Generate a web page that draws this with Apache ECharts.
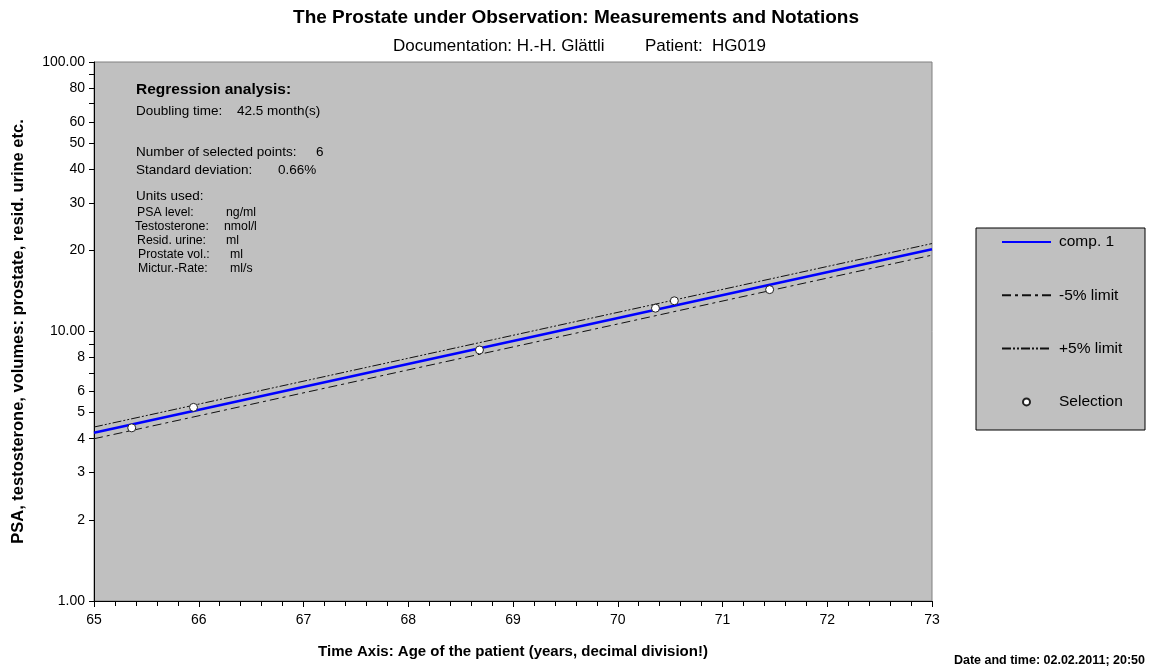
<!DOCTYPE html>
<html>
<head>
<meta charset="utf-8">
<script src="https://cdn.jsdelivr.net/npm/echarts@6/dist/echarts.min.js"></script>
<style>
html, body { margin: 0; padding: 0; background: #fff; }
#chart { width: 1150px; height: 669px; }
</style>
</head>
<body>
<div id="chart"></div>
<script>
// regression line (start/end of the age axis) and the +/-5% limits
var ageRange = [65, 73];
var comp1 = [4.21, 20.2];
var lowerLimit = [4.0, 19.2];
var upperLimit = [4.42, 21.2];

// selected measurements
var selAge = [65.36, 65.95, 68.68, 70.36, 70.54, 71.45];
var selValue = [4.39, 5.23, 8.54, 12.2, 13.0, 14.3];

// axis ticks
var yTicks = [1, 2, 3, 4, 5, 6, 7, 8, 9, 10, 20, 30, 40, 50, 60, 70, 80, 90, 100];
var yLabels = [1, 2, 3, 4, 5, 6, 8, 10, 20, 30, 40, 50, 60, 80, 100];
var xLabels = [65, 66, 67, 68, 69, 70, 71, 72, 73];

// text block inside the plot
var unitNames = ['PSA level:', 'Testosterone:', 'Resid. urine:', 'Prostate vol.:', 'Mictur.-Rate:'];
var unitValues = ['ng/ml', 'nmol/l', 'ml', 'ml', 'ml/s'];

var FONT = '"Liberation Sans", Arial, sans-serif';

function pairs(xs, ys) {
    return xs.map(function (x, i) { return [x, ys[i]]; });
}

// small helper for a text element, x/y is the left/middle anchor
function txt(str, x, y, font, align) {
    return {
        type: 'text', z: 10,
        style: { text: str, x: x, y: y, font: font + ' ' + FONT, fill: '#000',
                 align: align || 'left', verticalAlign: 'middle' }
    };
}

var chart = echarts.init(document.getElementById('chart'));

var graphics = [
    // legend box
    { type: 'rect', z: 0, shape: { x: 976, y: 228, width: 169, height: 202 },
      style: { fill: '#c0c0c0', stroke: '#000', lineWidth: 1 } },
    // titles
    txt('The Prostate under Observation: Measurements and Notations', 576, 18, 'bold 19px', 'center'),
    txt('Documentation: H.-H. Glättli', 393, 46, '17px'),
    txt('Patient:  HG019', 645, 46, '17px'),
    // regression notes
    txt('Regression analysis:', 136, 90, 'bold 15.5px'),
    txt('Doubling time:', 136, 111, '13.5px'),
    txt('42.5 month(s)', 237, 111, '13.5px'),
    txt('Number of selected points:', 136, 152, '13.5px'),
    txt('6', 316, 152, '13.5px'),
    txt('Standard deviation:', 136, 170, '13.5px'),
    txt('0.66%', 278, 170, '13.5px'),
    txt('Units used:', 136, 196, '13.5px'),
    // date stamp
    txt('Date and time: 02.02.2011; 20:50', 1145, 661, 'bold 12.5px', 'right')
];
var unitNameX = [137, 135, 137, 138, 138];
var unitValueX = [226, 224, 226, 230, 230];
unitNames.forEach(function (n, i) {
    var y = 213 + i * 13.8;
    graphics.push(txt(n, unitNameX[i], y, '12.3px'));
    graphics.push(txt(unitValues[i], unitValueX[i], y, '12.3px'));
});

var hideSymbol = { opacity: 0 };

chart.setOption({
    animation: false,
    backgroundColor: '#fff',
    graphic: graphics,
    legend: {
        orient: 'vertical',
        left: 1001,
        top: 234,
        itemWidth: 49,
        itemHeight: 7,
        itemGap: 37.3,
        padding: 0,
        textStyle: { fontFamily: FONT, fontSize: 15.5, color: '#000', lineHeight: 16, padding: [0, 0, 0, 3] },
        data: [
            { name: 'comp. 1', itemStyle: hideSymbol },
            { name: '-5% limit', itemStyle: hideSymbol },
            { name: '+5% limit', itemStyle: hideSymbol },
            { name: 'Selection' }
        ]
    },
    grid: {
        left: 94, right: 218, top: 62, bottom: 68,
        show: true,
        backgroundColor: '#c0c0c0',
        borderColor: '#808080',
        borderWidth: 1,
        containLabel: false,
        outerBoundsMode: 'none'
    },
    xAxis: {
        type: 'value',
        min: xLabels[0],
        max: xLabels[xLabels.length - 1],
        interval: 1,
        name: 'Time Axis: Age of the patient (years, decimal division!)',
        nameLocation: 'middle',
        nameGap: 43,
        nameTextStyle: { fontFamily: FONT, fontWeight: 'bold', fontSize: 15, color: '#000' },
        axisLine: { onZero: false, lineStyle: { color: '#000', width: 1 } },
        axisTick: { length: 6, lineStyle: { color: '#000' } },
        minorTick: { show: true, splitNumber: 5, length: 5, lineStyle: { color: '#000' } },
        axisLabel: { fontFamily: FONT, fontSize: 14, color: '#000', margin: 12 },
        splitLine: { show: false }
    },
    yAxis: {
        type: 'log',
        logBase: 10,
        min: 1,
        max: 100,
        name: 'PSA, testosterone, volumes: prostate, resid. urine etc.',
        nameLocation: 'middle',
        nameGap: 67,
        nameTextStyle: { fontFamily: FONT, fontWeight: 'bold', fontSize: 16.5, color: '#000' },
        axisLine: { show: true, lineStyle: { color: '#000', width: 1 } },
        axisTick: { show: true, length: 5, customValues: yTicks, lineStyle: { color: '#000' } },
        axisLabel: {
            fontFamily: FONT, fontSize: 14, color: '#000', margin: 9,
            customValues: yLabels,
            formatter: function (v) {
                var r = Math.round(v);
                return (r === 1 || r === 10 || r === 100) ? r.toFixed(2) : String(r);
            }
        },
        splitLine: { show: false }
    },
    series: [
        {
            name: 'comp. 1', type: 'line', symbol: 'none', z: 4,
            lineStyle: { color: '#0000ff', width: 2.5 },
            itemStyle: { color: '#0000ff' },
            data: pairs(ageRange, comp1)
        },
        {
            name: '-5% limit', type: 'line', symbol: 'none', z: 3,
            lineStyle: { color: '#111', width: 1, type: [9, 4, 3, 4] },
            itemStyle: { color: '#111' },
            data: pairs(ageRange, lowerLimit)
        },
        {
            name: '+5% limit', type: 'line', symbol: 'none', z: 3,
            lineStyle: { color: '#111', width: 1, type: [9, 2, 2, 2, 2, 2] },
            itemStyle: { color: '#111' },
            data: pairs(ageRange, upperLimit)
        },
        {
            name: 'Selection', type: 'scatter', symbol: 'circle', symbolSize: 8, z: 5,
            itemStyle: { color: '#fff', borderColor: '#222', borderWidth: 1, opacity: 1 },
            data: pairs(selAge, selValue)
        }
    ]
});
</script>
</body>
</html>
